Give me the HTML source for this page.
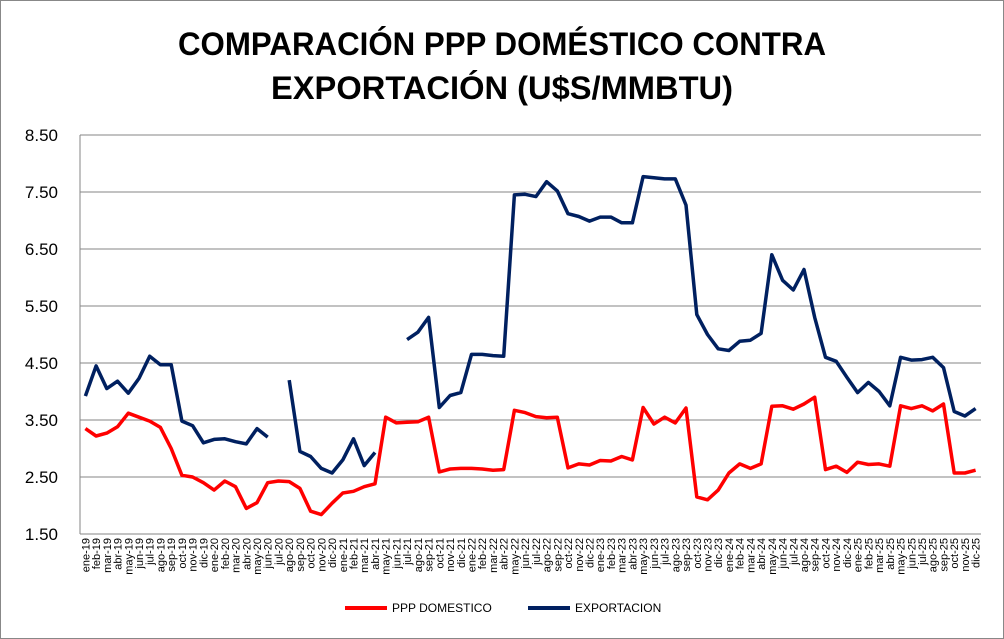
<!DOCTYPE html>
<html><head><meta charset="utf-8"><style>
body{margin:0;background:#fff;}
svg{display:block;font-family:"Liberation Sans",Arial,sans-serif;}
</style></head><body>
<svg id="c" width="1004" height="639">
<rect x="0.5" y="0.5" width="1003" height="638" fill="#fff" stroke="#888"/>
<text x="502" y="55" text-anchor="middle" font-size="32" font-weight="bold" textLength="648" lengthAdjust="spacingAndGlyphs">COMPARACIÓN PPP DOMÉSTICO CONTRA</text>
<text x="502" y="99" text-anchor="middle" font-size="32" font-weight="bold" textLength="462" lengthAdjust="spacingAndGlyphs">EXPORTACIÓN (U$S/MMBTU)</text>
<g id="grid"></g><g id="xl"></g><g id="yl"></g><g id="series"></g>
<g>
<line x1="345" y1="608" x2="387" y2="608" stroke="#ff0000" stroke-width="4"/>
<text x="392" y="612" font-size="12">PPP DOMESTICO</text>
<line x1="528" y1="608" x2="570" y2="608" stroke="#002060" stroke-width="4"/>
<text x="575" y="612" font-size="12">EXPORTACION</text>
</g>
</svg>
<script>
const yTicks=[1.5,2.5,3.5,4.5,5.5,6.5,7.5,8.5];
const years=['19','20','21','22','23','24','25'];
const months=['ene','feb','mar','abr','may','jun','jul','ago','sep','oct','nov','dic'];
const ppp=[3.35,3.22,3.27,3.38,3.62,3.55,3.48,3.37,3.0,2.53,2.5,2.4,
2.27,2.43,2.33,1.95,2.05,2.4,2.43,2.42,2.3,1.9,1.84,2.04,
2.22,2.25,2.33,2.38,3.55,3.45,3.46,3.47,3.55,2.59,2.64,2.65,
2.65,2.64,2.62,2.63,3.67,3.63,3.56,3.54,3.55,2.66,2.73,2.71,
2.79,2.78,2.86,2.80,3.72,3.43,3.55,3.45,3.71,2.15,2.1,2.27,
2.57,2.73,2.65,2.73,3.74,3.75,3.69,3.78,3.9,2.63,2.69,2.58,
2.76,2.72,2.73,2.69,3.75,3.70,3.75,3.66,3.78,2.57,2.57,2.62];
const expo=[3.92,4.45,4.05,4.18,3.97,4.23,4.62,4.47,4.47,3.48,3.40,3.10,
3.16,3.17,3.12,3.08,3.35,3.20,null,4.2,2.95,2.86,2.65,2.57,
2.80,3.17,2.70,2.93,null,null,4.91,5.04,5.30,3.72,3.93,3.98,
4.65,4.65,4.63,4.62,7.45,7.46,7.42,7.68,7.52,7.12,7.07,6.99,
7.06,7.06,6.96,6.96,7.77,7.75,7.73,7.73,7.27,5.35,5.0,4.75,
4.72,4.88,4.90,5.02,6.40,5.95,5.78,6.14,5.30,4.60,4.53,4.25,
3.98,4.16,4.0,3.75,4.60,4.55,4.56,4.60,4.42,3.65,3.57,3.70];
const cats=[];years.forEach(y=>months.forEach(m=>cats.push(m+'-'+y)));
const L=80,R=981,T=135,B=534,ymin=1.5,ymax=8.5;
const bw=(R-L)/cats.length;
const X=i=>L+(i+0.5)*bw, Y=v=>B-(v-ymin)/(ymax-ymin)*(B-T);
const NS='http://www.w3.org/2000/svg';
function mk(t,a,p){const e=document.createElementNS(NS,t);for(const k in a)e.setAttribute(k,a[k]);p.appendChild(e);return e;}
const g=document.getElementById('grid'),yl=document.getElementById('yl'),xl=document.getElementById('xl'),sg=document.getElementById('series');
yTicks.forEach(t=>{
 const l=mk('line',{x1:L,x2:R,y1:Y(t),y2:Y(t),stroke:'#868686','stroke-width':1},g);
 
 
 const tx=mk('text',{x:L-22,y:Y(t)+6,'text-anchor':'end','font-size':17},yl);
 tx.textContent=t.toFixed(2);
 
 
});
const ax=mk('line',{x1:L,x2:L,y1:T,y2:B,stroke:'#868686'},g);


cats.forEach((c,i)=>{
 const tx=mk('text',{transform:`translate(${X(i)+4},${B+4}) rotate(-90)`,'text-anchor':'end','font-size':11},xl);
 tx.textContent=c;
 
 
});
function draw(arr,col,name){
 let d='',pen=false;
 arr.forEach((v,i)=>{if(v==null){pen=false;return;}d+=(pen?'L':'M')+X(i).toFixed(1)+','+Y(v).toFixed(1);pen=true;});
 const p=mk('path',{d:d,fill:'none',stroke:col,'stroke-width':3.5,'stroke-linejoin':'round'},sg);
 
 
}
draw(ppp,'#ff0000','ppp-domestico-line');
draw(expo,'#002060','exportacion-line');
</script>
</body></html>
